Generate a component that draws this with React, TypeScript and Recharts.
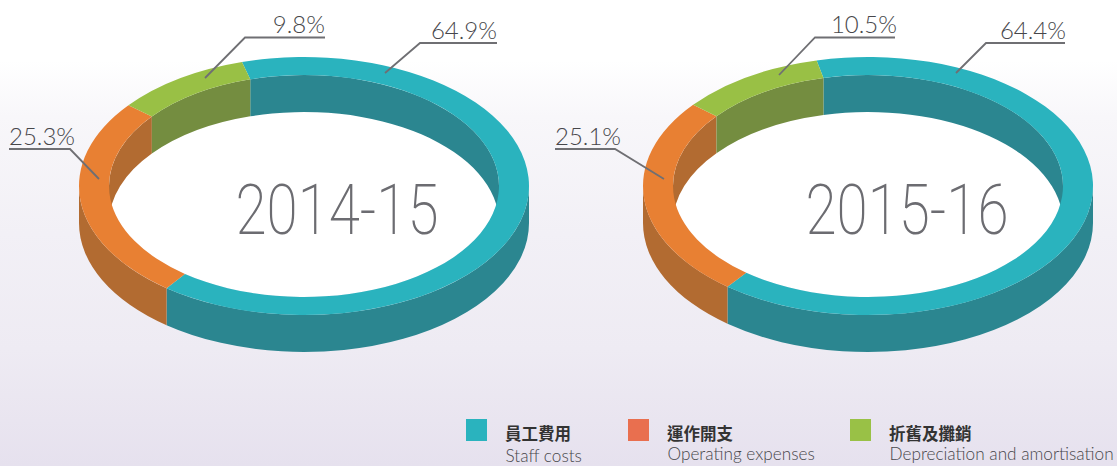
import React from "react";
import { PieChart, Pie, Legend } from "recharts";

const W = 1117;
const H = 466;

const seriesZh = ["員工費用", "運作開支", "折舊及攤銷"];
const seriesEn = ["Staff costs", "Operating expenses", "Depreciation and amortisation"];
const values2014 = [64.9, 25.3, 9.8];
const values2015 = [64.4, 25.1, 10.5];
const topColors = ["#2ab3be", "#e88033", "#99c045"];
const sideColors = ["#2b8690", "#b26b31", "#748d40"];
const legendColors = ["#2ab3be", "#e96f4f", "#99c146"];
const legendLeft = [466, 628, 850];
const legendEnTop = [446, 444, 444];

const RY_OUT = 129;
const RY_IN = 111;
const DEPTH = 37;
const TEXT = "#47474b";
const LINE = "#6f6f73";
const FONT = "Lato, 'Noto Sans', sans-serif";

const rad = (d: number) => (d * Math.PI) / 180;

function pt(cx: number, cy: number, rx: number, ry: number, t: number, dy = 0) {
  return [cx + rx * Math.cos(rad(t)), cy - ry * Math.sin(rad(t)) + dy];
}

// clip [b, a] to the ranges [lo + 360k, hi + 360k]
function clip(a: number, b: number, lo: number, hi: number) {
  const out: [number, number][] = [];
  for (let k = -2; k <= 2; k++) {
    const h = Math.min(a, hi + 360 * k);
    const l = Math.max(b, lo + 360 * k);
    if (h > l) out.push([h, l]);
  }
  return out;
}

function wall(cx: number, cy: number, rx: number, ry: number, a: number, b: number) {
  const s = pt(cx, cy, rx, ry, a);
  const e = pt(cx, cy, rx, ry, b);
  const large = a - b > 180 ? 1 : 0;
  return `M${s[0]},${s[1]}A${rx},${ry} 0 ${large} 1 ${e[0]},${e[1]}L${e[0]},${e[1] + DEPTH}A${rx},${ry} 0 ${large} 0 ${s[0]},${s[1] + DEPTH}Z`;
}

function Ring3D(props: any) {
  const { cx, cy, innerRadius, outerRadius, startAngle, endAngle, fill, payload } = props;
  const a = Math.max(startAngle, endAngle);
  const b = Math.min(startAngle, endAngle);
  const side = payload?.side ?? props.side;
  const first = (payload?.order ?? props.order) === 0;
  const large = a - b > 180 ? 1 : 0;
  const o1 = pt(cx, cy, outerRadius, RY_OUT, a);
  const o2 = pt(cx, cy, outerRadius, RY_OUT, b);
  const i1 = pt(cx, cy, innerRadius, RY_IN, a);
  const i2 = pt(cx, cy, innerRadius, RY_IN, b);
  const top = `M${o1[0]},${o1[1]}A${outerRadius},${RY_OUT} 0 ${large} 1 ${o2[0]},${o2[1]}L${i2[0]},${i2[1]}A${innerRadius},${RY_IN} 0 ${large} 0 ${i1[0]},${i1[1]}Z`;
  return (
    <g>
      {first && <ellipse cx={cx} cy={cy} rx={innerRadius} ry={RY_IN} fill="#ffffff" />}
      {clip(a, b, 0, 180).map(([h, l], i) => (
        <path key={`i${i}`} d={wall(cx, cy, innerRadius, RY_IN, h, l)} fill={side} />
      ))}
      {clip(a, b, 180, 360).map(([h, l], i) => (
        <path key={`o${i}`} d={wall(cx, cy, outerRadius, RY_OUT, h, l)} fill={side} />
      ))}
      <path d={top} fill={fill} />
    </g>
  );
}

type Callout = { tip: number[]; elbow: number[]; end: number[]; textX: number; baseY: number; anchor: string };

const callouts2014: Callout[] = [
  { tip: [81, -113], elbow: [116, -143], end: [193, -143], textX: 193, baseY: -147, anchor: "end" },
  { tip: [-205, -7], elbow: [-234, -37], end: [-295, -37], textX: -295, baseY: -41, anchor: "start" },
  { tip: [-99, -108], elbow: [-59, -148.5], end: [21, -148.5], textX: 21, baseY: -153, anchor: "end" },
];
const callouts2015: Callout[] = [
  { tip: [88, -113], elbow: [118, -143], end: [197, -143], textX: 198, baseY: -147, anchor: "end" },
  { tip: [-204, -7], elbow: [-253, -37], end: [-313, -37], textX: -313, baseY: -41, anchor: "start" },
  { tip: [-89, -111], elbow: [-53, -148.5], end: [27, -148.5], textX: 29, baseY: -153, anchor: "end" },
];

function makeLabel(callouts: Callout[], year: string, yearX: number) {
  return (props: any) => {
    const { cx, cy, index, value } = props;
    const c = callouts[index];
    return (
      <g>
        {index === 0 && (
          <text
            x={cx + yearX}
            y={cy + 48}
            textAnchor="middle"
            textLength={203}
            lengthAdjust="spacingAndGlyphs"
            fontFamily="'Roboto', sans-serif"
            fontWeight={200}
            fontSize={71}
            fill="#6c6c71"
          >
            {year}
          </text>
        )}
        <polyline
          points={`${cx + c.tip[0]},${cy + c.tip[1]} ${cx + c.elbow[0]},${cy + c.elbow[1]} ${cx + c.end[0]},${cy + c.end[1]}`}
          fill="none"
          stroke={LINE}
          strokeWidth={1.8}
        />
        <text x={cx + c.textX} y={cy + c.baseY} textAnchor={c.anchor as any} fontFamily={FONT} fontWeight={300} fontSize={24} fill={TEXT}>
          {`${value.toFixed(1)}%`}
        </text>
      </g>
    );
  };
}

const rows = (values: number[]) =>
  values.map((v, i) => ({ name: seriesEn[i], value: v, fill: topColors[i], side: sideColors[i], order: i }));

function LegendBlock() {
  return (
    <div style={{ position: "relative", width: W, height: H, pointerEvents: "none" }}>
      {seriesEn.map((en, i) => (
        <div key={en}>
          <div style={{ position: "absolute", left: legendLeft[i], top: 419, width: 21, height: 22, background: legendColors[i] }} />
          <div style={{ position: "absolute", left: legendLeft[i] + 39, top: 421, fontFamily: "'Noto Sans CJK TC', sans-serif", fontWeight: 700, fontSize: 16.5, lineHeight: "24px", color: "#333", whiteSpace: "nowrap" }}>
            {seriesZh[i]}
          </div>
          <div style={{ position: "absolute", left: legendLeft[i] + 39.5, top: legendEnTop[i], fontFamily: FONT, fontWeight: 300, fontSize: 17.2, lineHeight: "20px", color: "#47474b", whiteSpace: "nowrap" }}>
            {en}
          </div>
        </div>
      ))}
    </div>
  );
}

export default function App() {
  return (
    <div
      style={{
        position: "absolute",
        left: 0,
        top: 0,
        width: W,
        height: H,
        overflow: "hidden",
        background: "linear-gradient(180deg, #ffffff 0%, #ffffff 13%, #f8f7fa 25%, #f2f0f6 50%, #eeebf3 75%, #e6e1ee 100%)",
      }}
    >
      <PieChart width={W} height={H} margin={{ top: 0, right: 0, bottom: 0, left: 0 }}>
        <Pie
          data={rows(values2014)}
          dataKey="value"
          nameKey="name"
          cx={304}
          cy={186}
          innerRadius={195}
          outerRadius={225}
          startAngle={106}
          endAngle={-254}
          stroke="none"
          shape={Ring3D}
          label={makeLabel(callouts2014, "2014-15", 33)}
          labelLine={false}
          isAnimationActive={false}
        />
        <Pie
          data={rows(values2015)}
          dataKey="value"
          nameKey="name"
          cx={868}
          cy={186}
          innerRadius={195}
          outerRadius={225}
          startAngle={103.2}
          endAngle={-256.8}
          stroke="none"
          shape={Ring3D}
          label={makeLabel(callouts2015, "2015-16", 39)}
          labelLine={false}
          isAnimationActive={false}
        />
        <Legend content={() => <LegendBlock />} wrapperStyle={{ position: "absolute", left: 0, top: 0, bottom: "auto", width: W, height: H }} />
      </PieChart>
    </div>
  );
}
